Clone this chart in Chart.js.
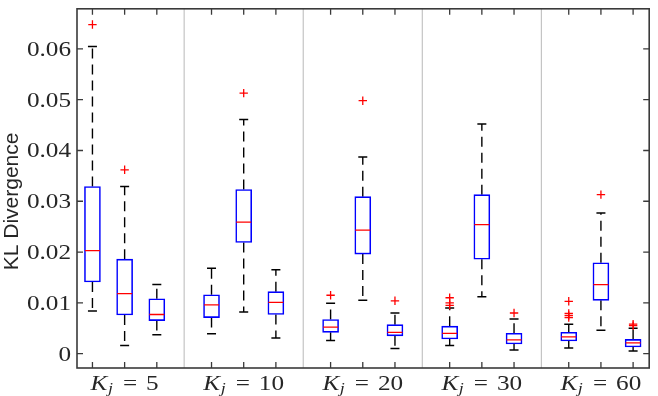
<!DOCTYPE html>
<html lang="en">
<head>
<meta charset="UTF-8" />
<title>KL Divergence</title>
<script src="https://cdn.jsdelivr.net/npm/chart.js"></script>
<style>
  body { margin: 0; background: #ffffff; }
</style>
</head>
<body>
<canvas id="grafico" width="658" height="396"></canvas>
<script>
// groups on the x axis (K_j), three boxes in each group
const kValues = [5, 10, 20, 30, 60];
const yTicks = [0, 0.01, 0.02, 0.03, 0.04, 0.05, 0.06];

// box statistics, group by group
const whiskerLow  = [0.0084, 0.0016, 0.0037,  0.0039, 0.0082, 0.0031,  0.0026, 0.0105, 0.0010,  0.0016, 0.0112, 0.0007,  0.0011, 0.0046, 0.0005];
const q1          = [0.0141, 0.0076, 0.0065,  0.0071, 0.0219, 0.0077,  0.0042, 0.0196, 0.0035,  0.0029, 0.0186, 0.0019,  0.0025, 0.0105, 0.0013];
const median      = [0.0203, 0.0118, 0.0077,  0.0096, 0.0259, 0.0101,  0.0052, 0.0243, 0.0042,  0.0040, 0.0254, 0.0027,  0.0033, 0.0136, 0.0021];
const q3          = [0.0329, 0.0186, 0.0108,  0.0116, 0.0323, 0.0122,  0.0067, 0.0309, 0.0057,  0.0054, 0.0313, 0.0040,  0.0042, 0.0179, 0.0028];
const whiskerHigh = [0.0605, 0.0329, 0.0136,  0.0168, 0.0461, 0.0165,  0.0099, 0.0387, 0.0080,  0.0090, 0.0452, 0.0068,  0.0058, 0.0277, 0.0050];
const outliers = [
  [0.0648], [0.0362], [],
  [], [0.0513], [],
  [0.0115], [0.0498], [0.0104],
  [0.0110, 0.0100, 0.0095], [], [0.0080],
  [0.0103, 0.0079, 0.0075, 0.0071], [0.0313], [0.0058, 0.0055]
];

// x position of each box: 1,2,3 then the next group 3.7 further on
const groupStep = 3.7;
const boxPos = [];
kValues.forEach((k, g) => { for (let b = 0; b < 3; b++) boxPos.push(1 + g * groupStep + b); });

const boxData = boxPos.map((p, i) => ({ x: p, y: [q1[i], q3[i]] }));
const medianData = boxPos.map((p, i) => ({ x: p, y: median[i] }));
const capData = [];
const whiskerData = [];
const outlierData = [];
boxPos.forEach((p, i) => {
  capData.push({ x: p, y: whiskerLow[i] }, { x: p, y: whiskerHigh[i] });
  whiskerData.push({ x: p, y: q3[i] }, { x: p, y: whiskerHigh[i] }, { x: p, y: null });
  whiskerData.push({ x: p, y: q1[i] }, { x: p, y: whiskerLow[i] }, { x: p, y: null });
  outliers[i].forEach(v => outlierData.push({ x: p, y: v }));
});

const textColor = '#262626';
const serif = '"Liberation Serif", "Times New Roman", serif';
const stretch = 1.2;

function drawKLabel(ctx, cx, baseY, k) {
  const parts = [
    { t: 'K', f: 'italic 21px ' + serif, dy: 0, gap: 0 },
    { t: 'j', f: 'italic 15px ' + serif, dy: 3, gap: 0.5 },
    { t: '=', f: '21px ' + serif, dy: 0, gap: 10 },
    { t: String(k), f: '21px ' + serif, dy: 0, gap: 9 }
  ];
  let total = 0;
  parts.forEach(p => { ctx.font = p.f; p.w = ctx.measureText(p.t).width * stretch; total += p.gap + p.w; });
  let x0 = cx - total / 2;
  parts.forEach(p => {
    x0 += p.gap;
    ctx.save();
    ctx.font = p.f;
    ctx.translate(x0, baseY + p.dy);
    ctx.scale(stretch, 1);
    ctx.fillText(p.t, 0, 0);
    ctx.restore();
    x0 += p.w;
  });
}

// frame, inner ticks, separators and labels, all placed through the scales
const eixos = {
  id: 'eixos',
  beforeDatasetsDraw(chart) {
    const { ctx, chartArea: a, scales: { x } } = chart;
    ctx.save();
    ctx.strokeStyle = '#c4c4c4';
    ctx.lineWidth = 1.2;
    for (let g = 1; g < kValues.length; g++) {
      const px = x.getPixelForValue(2 + (g - 0.5) * groupStep);
      ctx.beginPath();
      ctx.moveTo(px, a.top);
      ctx.lineTo(px, a.bottom);
      ctx.stroke();
    }
    ctx.restore();
  },
  afterDatasetsDraw(chart) {
    const { ctx, chartArea: a, scales: { x, y } } = chart;
    ctx.save();
    ctx.strokeStyle = '#3a3a3a';
    ctx.lineWidth = 1.3;
    const t = 6;
    ctx.beginPath();
    yTicks.forEach(v => {
      const py = y.getPixelForValue(v);
      ctx.moveTo(a.left, py); ctx.lineTo(a.left + t, py);
      ctx.moveTo(a.right, py); ctx.lineTo(a.right - t, py);
    });
    boxPos.forEach(p => {
      const px = x.getPixelForValue(p);
      ctx.moveTo(px, a.bottom); ctx.lineTo(px, a.bottom - t);
      ctx.moveTo(px, a.top); ctx.lineTo(px, a.top + t);
    });
    ctx.stroke();
    ctx.lineWidth = 1.6;
    ctx.strokeRect(a.left, a.top, a.right - a.left, a.bottom - a.top);
    ctx.restore();
  },
  afterDraw(chart) {
    const { ctx, chartArea: a, scales: { x, y } } = chart;
    ctx.save();
    ctx.fillStyle = textColor;
    ctx.textAlign = 'right';
    ctx.textBaseline = 'alphabetic';
    ctx.font = '21px ' + serif;
    yTicks.forEach(v => {
      const py = y.getPixelForValue(v);
      ctx.save();
      ctx.translate(a.left - 6, py + 7);
      ctx.scale(stretch, 1);
      ctx.fillText(v === 0 ? '0' : v.toFixed(2), 0, 0);
      ctx.restore();
    });
    ctx.textAlign = 'left';
    kValues.forEach((k, g) => {
      drawKLabel(ctx, x.getPixelForValue(boxPos[g * 3 + 1]), a.bottom + 22, k);
    });
    ctx.save();
    ctx.font = '21px "Liberation Sans", Arial, sans-serif';
    ctx.textAlign = 'center';
    ctx.translate(18, (a.top + a.bottom) / 2 + 13);
    ctx.rotate(-Math.PI / 2);
    ctx.fillText('KL Divergence', 0, 0);
    ctx.restore();
    ctx.restore();
  }
};

new Chart(document.getElementById('grafico'), {
  type: 'bar',
  data: {
    datasets: [
      {
        type: 'scatter',
        label: 'outliers',
        data: outlierData,
        pointStyle: 'cross',
        pointRadius: 4.2,
        borderColor: '#ff0000',
        borderWidth: 1.3
      },
      {
        type: 'scatter',
        label: 'median',
        data: medianData,
        pointStyle: 'line',
        pointRadius: 7.5,
        borderColor: '#ff0000',
        borderWidth: 1.3
      },
      {
        label: 'box',
        data: boxData,
        backgroundColor: '#ffffff',
        borderColor: '#0000ff',
        borderWidth: 1.6,
        borderSkipped: false,
        barThickness: 16
      },
      {
        type: 'scatter',
        label: 'caps',
        data: capData,
        pointStyle: 'line',
        pointRadius: 4.5,
        borderColor: '#000000',
        borderWidth: 1.5
      },
      {
        type: 'line',
        label: 'whiskers',
        data: whiskerData,
        borderColor: '#000000',
        borderWidth: 1.4,
        borderDash: [10, 6],
        pointRadius: 0,
        spanGaps: false,
        fill: false
      }
    ]
  },
  options: {
    responsive: false,
    animation: false,
    events: [],
    layout: { padding: { left: 77, right: 1, top: 1, bottom: 28 } },
    plugins: { legend: { display: false }, tooltip: { enabled: false } },
    scales: {
      x: { type: 'linear', display: false, offset: false, min: 0.52, max: 18.3 },
      y: { type: 'linear', display: false, min: -0.00283, max: 0.0679 }
    }
  },
  plugins: [eixos]
});
</script>
</body>
</html>
